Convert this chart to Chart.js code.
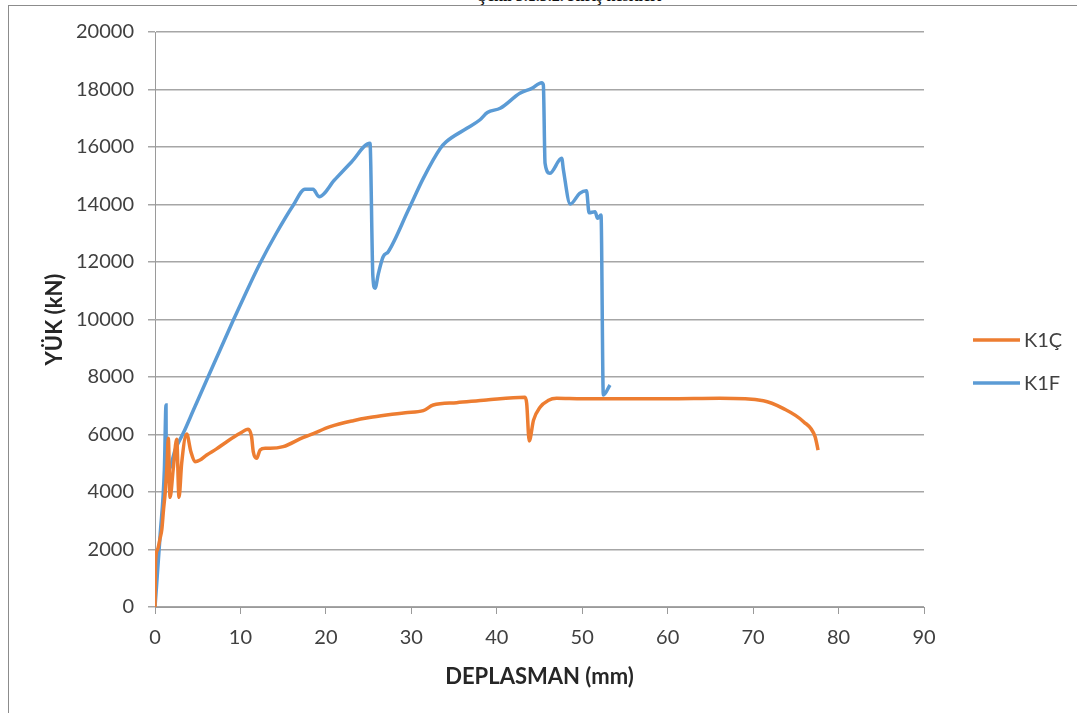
<!DOCTYPE html>
<html lang="tr">
<head>
    <meta charset="UTF-8">
    <title>K1Ç - K1F Yük-Deplasman</title>
    <script src="https://cdn.jsdelivr.net/npm/chart.js"></script>
    <style>
        html, body {
            margin: 0;
            padding: 0;
            background: #fff;
            overflow: hidden;
        }
        .wrap {
            position: relative;
            width: 1077px;
            height: 713px;
        }
        .frame {
            position: absolute;
            left: 8px;
            top: 5px;
            width: 1100px;
            height: 750px;
            border: 1px solid #8c8c8c;
        }
        .caption {
            position: absolute;
            left: 478px;
            top: -12px;
            font: bold 16px "Liberation Serif", serif;
            line-height: 16px;
            color: #111;
            white-space: nowrap;
        }
        canvas {
            position: absolute;
            left: 0;
            top: 0;
        }
    </style>
</head>
<body>
<div class="wrap">
    <div class="caption">Şekil 3.1.3.2. Kiriş kesitleri</div>
    <div class="frame"></div>
    <canvas id="chart" width="1077" height="713"></canvas>
</div>

<script>
    // K1Ç (orange)
    const k1cX = [0, 0.05, 0.3, 0.6, 0.8, 1.0, 1.2, 1.4, 1.56, 1.76, 2.14, 2.54, 2.81, 3.12, 3.71, 4.2, 4.68, 5.27, 6.05, 7.2, 8.4, 9.95, 10.9,
        11.3, 11.5, 11.9, 12.3, 12.9, 13.46, 15.0, 17.37, 18.14, 20.5, 23.2, 25.1, 27.1, 29.3, 31.4, 32.56, 35.3, 38.8, 43.3, 43.5, 43.8,
        44.3, 45.06, 46.0, 47.0, 50, 55, 60, 66.1, 71.2, 73.5, 75.9, 77.25, 77.6];
    const k1cY = [0, 1500, 2000, 2400, 2700, 3400, 4000, 4900, 5867, 3814, 4823, 5832, 3814, 4997, 6017, 5400, 5055, 5113, 5287, 5500, 5750, 6040, 6182,
        5925, 5402, 5170, 5461, 5520, 5520, 5577, 5902, 5983, 6272, 6481, 6590, 6678, 6760, 6828, 7026, 7107, 7200, 7293, 7084, 5774,
        6500, 6950, 7180, 7258, 7240, 7245, 7240, 7258, 7176, 6910, 6446, 5925, 5460];

    // K1F (blue)
    const k1fX = [0, 0.6, 1.1, 1.29, 1.32, 1.56, 2.4, 3.3, 4.5, 6.05, 7.6, 9.17, 10.7, 12.3, 14.2, 16.2, 17.55, 18.5, 19.2, 21.0, 23.0, 25.16,
        25.5, 25.75, 26.15, 26.7, 27.3, 29.65, 31.4, 33.4, 34.1, 36.5, 38.0, 38.9, 40.4, 42.7, 44.1, 45.26, 45.45, 45.65, 46.2,
        47.6, 47.8, 48.6, 49.7, 50.5, 50.8, 51.5, 51.8, 52.2, 52.47, 53.25];
    const k1fY = [0, 2500, 4800, 7026, 4800, 4765, 5500, 6040, 6850, 7896, 8930, 9983, 10967, 11955, 13000, 13983, 14529, 14529, 14272, 14850, 15480, 16129,
        11500, 11085, 11606, 12185, 12359, 13809, 14910, 15955, 16185, 16650, 16939, 17200, 17346, 17867, 18041, 18238, 18157, 15433, 15085,
        15606, 15200, 14017, 14389, 14480, 13715, 13750, 13520, 13635, 7374, 7722];

    const seriesNames = ['K1Ç', 'K1F'];
    const seriesColors = ['#ED7D31', '#5B9BD5'];

    const xTicks = { min: 0, max: 90, step: 10 };
    const yTicks = { min: 0, max: 20000, step: 2000 };

    function toPoints(xs, ys) {
        return xs.map((x, i) => ({ x: x, y: ys[i] }));
    }

    // legend drawn at the right side like the original
    const sideLegend = {
        id: 'sideLegend',
        afterDraw(chart) {
            const ctx = chart.ctx;
            const rows = [340, 383];
            ctx.save();
            ctx.font = '20px Lato';
            ctx.textBaseline = 'middle';
            chart.data.datasets.forEach((ds, i) => {
                ctx.strokeStyle = ds.borderColor;
                ctx.lineWidth = 3.5;
                ctx.beginPath();
                ctx.moveTo(973, rows[i]);
                ctx.lineTo(1020, rows[i]);
                ctx.stroke();
                ctx.fillStyle = '#404040';
                ctx.fillText(ds.label, 1024, rows[i] + 1);
            });
            ctx.restore();
        }
    };

    function lineSet(i, xs, ys) {
        return {
            label: seriesNames[i],
            data: toPoints(xs, ys),
            borderColor: seriesColors[i],
            backgroundColor: seriesColors[i],
            showLine: true,
            borderWidth: 3.5,
            pointRadius: 0,
            cubicInterpolationMode: 'monotone'
        };
    }

    const ctx = document.getElementById('chart').getContext('2d');
    new Chart(ctx, {
        type: 'scatter',
        data: {
            datasets: [lineSet(0, k1cX, k1cY), lineSet(1, k1fX, k1fY)]
        },
        options: {
            responsive: false,
            animation: false,
            layout: { padding: { top: 32, right: 153, bottom: 0, left: 0 } },
            plugins: {
                legend: { display: false },
                tooltip: { enabled: false }
            },
            scales: {
                x: {
                    type: 'linear',
                    min: xTicks.min,
                    max: xTicks.max,
                    afterFit: s => { s.height = 106; },
                    ticks: {
                        stepSize: xTicks.step,
                        padding: 12,
                        color: '#404040',
                        font: { family: 'Lato', size: 20 }
                    },
                    grid: {
                        drawOnChartArea: false,
                        drawTicks: true,
                        tickLength: 7,
                        color: '#9a9a9a'
                    },
                    border: { display: true, color: '#9a9a9a', width: 1 },
                    title: {
                        display: true,
                        text: 'DEPLASMAN (mm)',
                        color: '#262626',
                        font: { family: 'Lato', size: 22, weight: 'bold' },
                        padding: { top: 0, bottom: 23 }
                    }
                },
                y: {
                    min: yTicks.min,
                    max: yTicks.max,
                    afterFit: s => { s.width = 155; },
                    ticks: {
                        stepSize: yTicks.step,
                        padding: 14,
                        color: '#404040',
                        font: { family: 'Lato', size: 20 },
                        callback: v => String(v)
                    },
                    grid: {
                        color: '#a6a6a6',
                        tickLength: 7,
                        lineWidth: 1.5
                    },
                    border: { display: true, color: '#9a9a9a', width: 1 },
                    title: {
                        display: true,
                        text: 'YÜK (kN)',
                        color: '#262626',
                        font: { family: 'Lato', size: 22, weight: 'bold' },
                        padding: { top: 42, bottom: 0 }
                    }
                }
            }
        },
        plugins: [sideLegend]
    });
</script>
</body>
</html>
